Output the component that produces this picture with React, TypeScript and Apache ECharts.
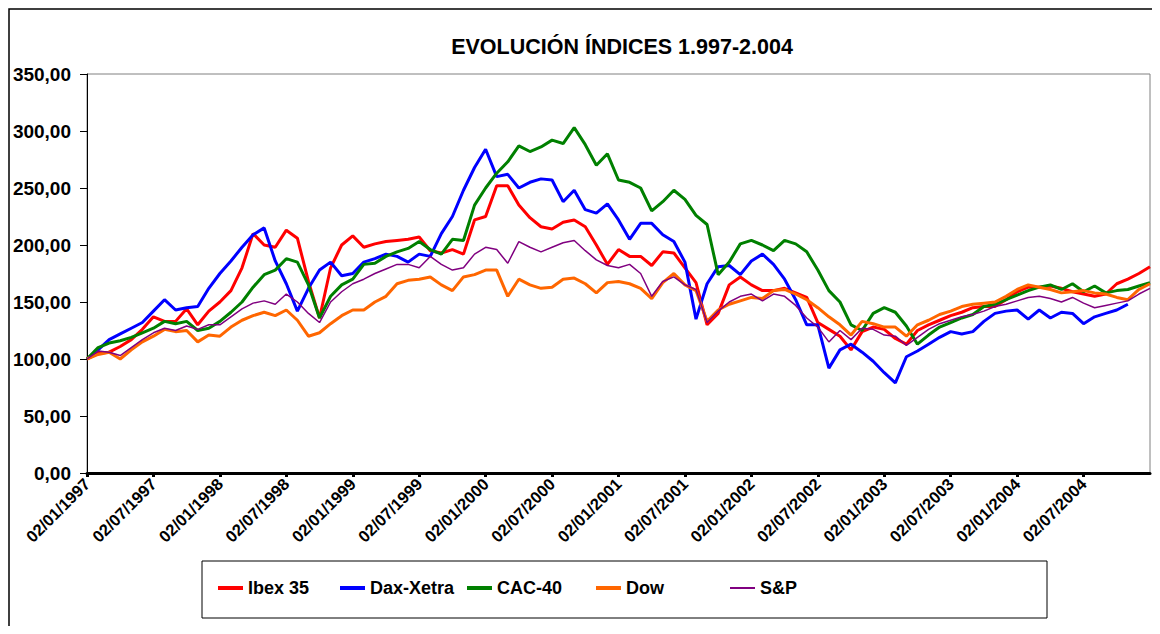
import React, { useEffect, useRef } from "react";
import * as echarts from "echarts";

// Month index 0 = 02/01/1997 ... 96 = end of 2004
const categories: string[] = [];
for (let i = 0; i <= 96; i++) {
  const mm = String((i % 12) + 1).padStart(2, "0");
  categories.push(`02/${mm}/${1997 + Math.floor(i / 12)}`);
}

const seriesNames = ["Ibex 35", "Dax-Xetra", "CAC-40", "Dow", "S&P"];
const seriesColors = ["#FF0000", "#0000FF", "#008000", "#FF6600", "#800080"];

const ibex = [
  100, 105, 106, 111, 117, 126, 137, 133, 133, 144, 130, 142,
  150, 160, 180, 210, 200, 198, 213, 206, 168, 136, 180, 200,
  208, 198, 201, 203, 204, 205, 207, 195, 193, 196, 192, 222,
  225, 252, 252, 235, 224, 216, 214, 220, 222, 216, 200, 183,
  196, 190, 190, 182, 194, 193, 180, 167, 130, 140, 165, 172,
  165, 160, 160, 162, 158, 154, 132, 126, 120, 108, 124, 128,
  126, 118, 113, 125, 130, 134, 138, 141, 145, 146, 146, 152,
  159, 163, 163, 164, 162, 159, 157, 155, 157, 166, 170, 175,
  181,
];

const dax = [
  100, 108, 117, 122, 127, 132, 142, 152, 143, 145, 146, 162,
  175, 186, 198, 209, 215, 186, 166, 142, 162, 178, 185, 173,
  175, 185, 188, 192, 190, 185, 192, 190, 210, 225, 248, 268,
  284, 260, 262, 250, 255, 258, 257, 238, 248, 231, 228, 236,
  222, 205, 219, 219, 209, 203, 185, 135, 166, 181, 182, 174,
  186, 192, 183, 170, 152, 130, 130, 92, 108, 113, 106, 98,
  88, 79, 102, 107, 113, 119, 124, 122, 124, 133, 140, 142,
  143, 135, 143, 136, 141, 140, 131, 137, 140, 143, 148, null,
  null,
];

const cac = [
  100, 110, 114, 116, 119, 123, 127, 133, 131, 133, 125, 127,
  133, 141, 150, 163, 174, 178, 188, 185, 165, 136, 155, 165,
  170, 183, 184, 190, 194, 197, 203, 196, 192, 205, 204, 235,
  250, 263, 273, 287, 282, 286, 292, 289, 303, 288, 270, 280,
  257, 255, 250, 230, 238, 248, 240, 226, 218, 174, 185, 201,
  204, 200, 195, 204, 201, 194, 178, 160, 150, 130, 125, 140,
  145, 141, 129, 113, 121, 128, 132, 136, 139, 146, 148, 152,
  156, 160, 163, 165, 161, 166, 159, 164, 158, 160, 161, 164,
  167,
];

const dow = [
  100, 104, 106, 100, 108, 115, 120, 126, 124, 125, 115, 121,
  120, 128, 134, 138, 141, 138, 143, 134, 120, 123, 131, 138,
  143, 143, 150, 155, 166, 169, 170, 172, 165, 160, 172, 174,
  178, 178, 155, 170, 165, 162, 163, 170, 171, 166, 158, 167,
  168, 166, 162, 153, 167, 175, 165, 160, 133, 143, 148, 151,
  154, 153, 160, 161, 157, 152, 145, 137, 130, 121, 133, 131,
  128, 128, 120, 130, 134, 139, 142, 146, 148, 149, 150, 155,
  161, 165, 163, 161, 158, 159, 160, 158, 157, 154, 152, 161,
  166,
];

const sp = [
  100, 107, 106, 103, 110, 117, 123, 127, 125, 129, 126, 130,
  130, 137, 144, 149, 151, 148, 157, 150, 140, 132, 150, 159,
  166, 170, 175, 179, 183, 183, 180, 190, 183, 178, 180, 192,
  198, 196, 184, 203, 198, 194, 198, 202, 204, 195, 187, 182,
  180, 183, 175, 155, 168, 172, 165, 161, 132, 142, 150, 155,
  157, 151, 157, 155, 147, 136, 128, 115, 125, 117, 127, 126,
  121, 120, 112, 119, 126, 131, 134, 137, 139, 142, 146, 148,
  151, 154, 155, 153, 150, 154, 149, 145, 147, 149, 151, 157,
  162,
];

const seriesData = [ibex, dax, cac, dow, sp];
const lineWidths = [3, 3, 3, 3, 1.5];
const legendLeft = [210, 332, 459, 588, 722];

const FONT = 'Arial, "Liberation Sans", sans-serif';

export default function App() {
  const ref = useRef<HTMLDivElement>(null);

  useEffect(() => {
    if (!ref.current) return;
    const chart = echarts.init(ref.current, undefined, { renderer: "svg" });
    const showIdx = (idx: number) => idx % 6 === 0 && idx < 96;

    chart.setOption({
      animation: false,
      backgroundColor: "#ffffff",
      title: {
        text: "EVOLUCIÓN ÍNDICES 1.997-2.004",
        left: 614,
        top: 28,
        textAlign: "center",
        padding: 0,
        textStyle: { fontSize: 21.5, fontWeight: "bold", color: "#000", fontFamily: FONT },
      },
      graphic: [
        {
          type: "rect",
          shape: { x: 1, y: 1, width: 1300, height: 800 },
          style: { fill: "none", stroke: "#000", lineWidth: 1.5 },
          silent: true,
          z: -1,
        },
        {
          type: "rect",
          shape: { x: 194, y: 553, width: 845, height: 57 },
          style: { fill: "#fff", stroke: "#000", lineWidth: 1 },
          silent: true,
          z: -1,
        },
      ],
      legend: seriesNames.map((name, i) => ({
        data: [name],
        left: legendLeft[i],
        top: 571,
        padding: 0,
        icon: "rect",
        itemWidth: 25,
        itemHeight: i === 4 ? 2 : 4,
        selectedMode: false,
        textStyle: { fontSize: 18, fontWeight: "bold", color: "#000", fontFamily: FONT },
      })),
      grid: {
        left: 79,
        right: 2,
        top: 66,
        bottom: 153,
        show: true,
        borderColor: "#808080",
        borderWidth: 1,
      },
      xAxis: {
        type: "category",
        data: categories,
        boundaryGap: false,
        axisLine: { show: true, lineStyle: { color: "#000", width: 3 } },
        axisTick: { show: true, interval: (idx: number) => showIdx(idx), length: 4, lineStyle: { color: "#000", width: 3 } },
        axisLabel: {
          interval: (idx: number) => showIdx(idx),
          rotate: 45,
          margin: 8,
          color: "#000",
          fontSize: 16.5,
          fontWeight: "bold",
          fontFamily: FONT,
        },
        splitLine: { show: false },
      },
      yAxis: {
        type: "value",
        min: 0,
        max: 350,
        interval: 50,
        axisLine: { show: true, lineStyle: { color: "#000", width: 1 } },
        axisTick: { show: true, length: 7, lineStyle: { color: "#000" } },
        axisLabel: {
          formatter: (v: number) => v.toFixed(2).replace(".", ","),
          margin: 16,
          color: "#000",
          fontSize: 19,
          fontWeight: "bold",
          fontFamily: FONT,
        },
        splitLine: { show: false },
      },
      series: seriesNames.map((name, i) => ({
        name,
        type: "line",
        data: seriesData[i],
        showSymbol: false,
        symbol: "none",
        color: seriesColors[i],
        lineStyle: { color: seriesColors[i], width: lineWidths[i] },
        connectNulls: false,
      })),
    });

    return () => chart.dispose();
  }, []);

  return <div ref={ref} style={{ width: 1144, height: 618 }} />;
}
